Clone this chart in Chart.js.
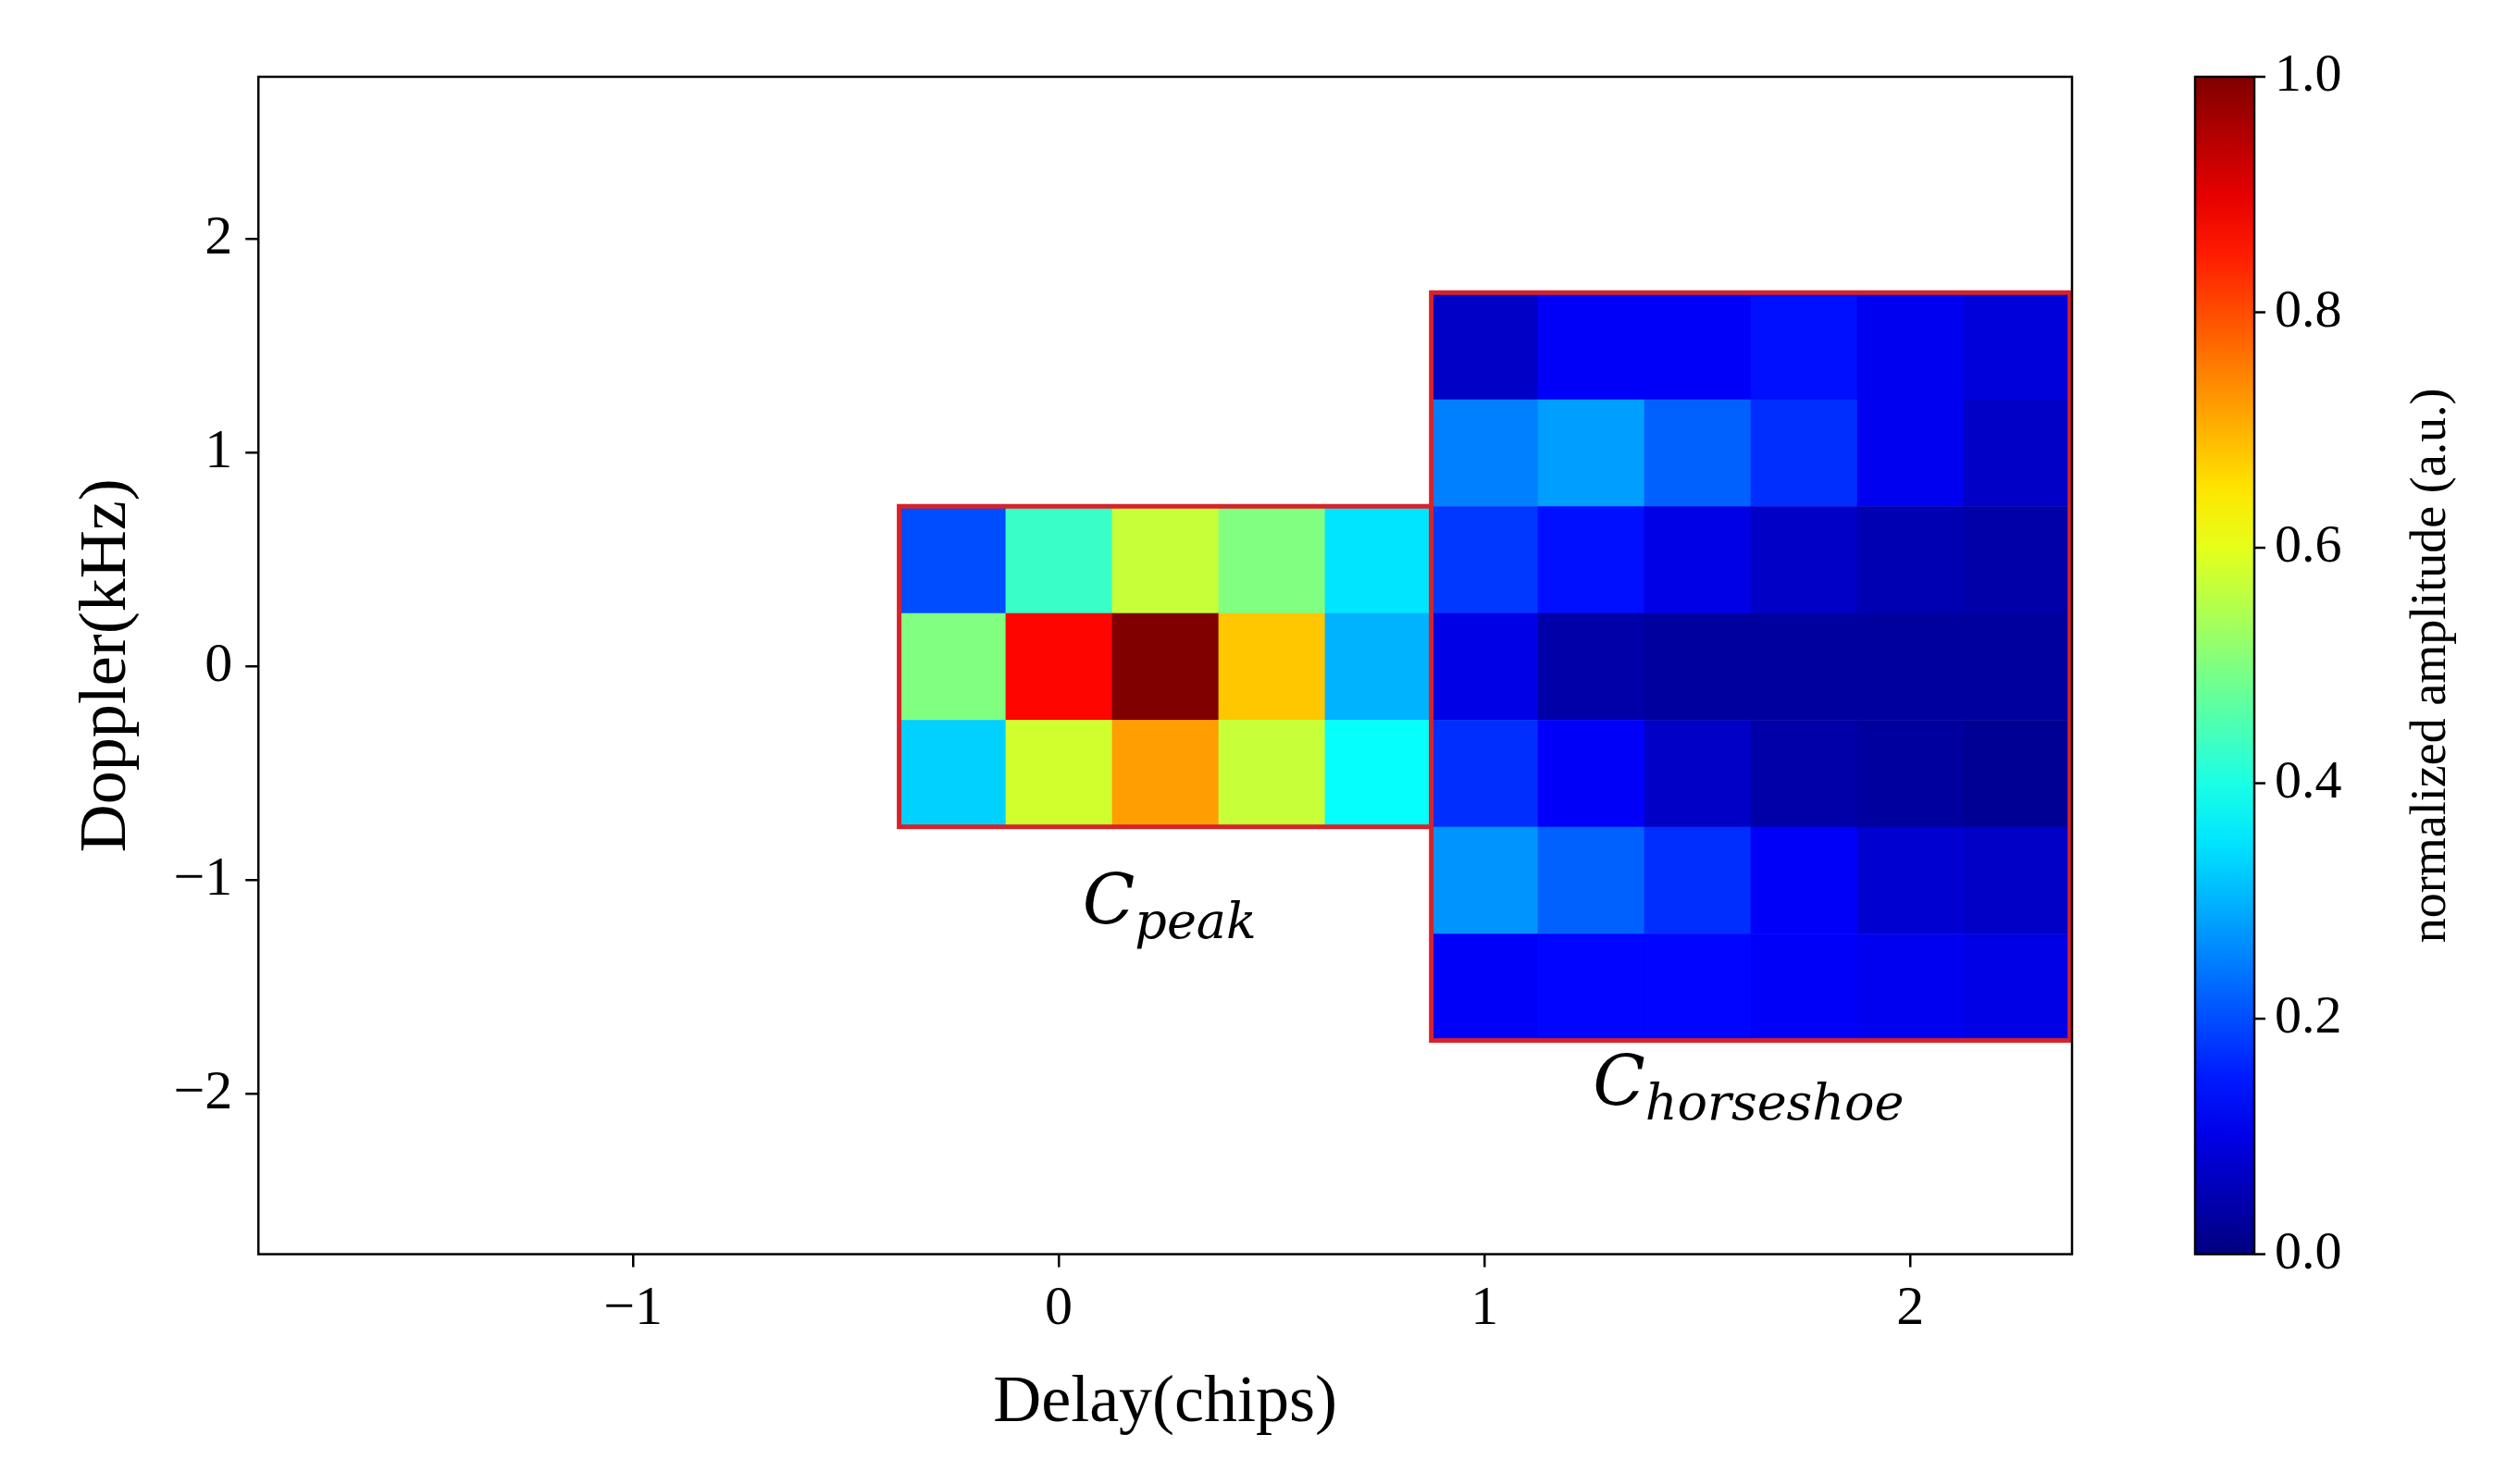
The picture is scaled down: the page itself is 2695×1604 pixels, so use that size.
<!DOCTYPE html>
<html>
<head>
<meta charset="utf-8">
<script src="https://cdn.jsdelivr.net/npm/chart.js@4/dist/chart.umd.min.js"></script>
<style>
  html, body { margin: 0; padding: 0; background: #fff; }
  #wrap { width: 2695px; height: 1604px; }
</style>
</head>
<body>
<div id="wrap"><canvas id="c"></canvas></div>
<script>
// cell geometry in data units
var cellW = 0.25, cellH = 0.5;

// C_peak block: delay centres, doppler centres (top to bottom), amplitudes
var peakDelays = [-0.25, 0, 0.25, 0.5, 0.75];
var peakDopplers = [0.5, 0, -0.5];
var peakValues = [
    [0.20, 0.43, 0.57, 0.50, 0.35],
    [0.50, 0.87, 1.00, 0.68, 0.30],
    [0.33, 0.58, 0.72, 0.57, 0.38]
];

// C_horseshoe block
var hsDelays = [1.0, 1.25, 1.5, 1.75, 2.0, 2.25];
var hsDopplers = [1.5, 1.0, 0.5, 0, -0.5, -1.0, -1.5];
var hsValues = [
    [0.07, 0.12, 0.12, 0.14, 0.11, 0.09],
    [0.25, 0.28, 0.22, 0.17, 0.11, 0.07],
    [0.18, 0.14, 0.10, 0.07, 0.05, 0.04],
    [0.10, 0.04, 0.03, 0.03, 0.03, 0.03],
    [0.17, 0.12, 0.07, 0.04, 0.03, 0.02],
    [0.27, 0.22, 0.17, 0.12, 0.08, 0.07],
    [0.12, 0.13, 0.13, 0.12, 0.11, 0.10]
];

var xTicks = [-1, 0, 1, 2];
var yTicks = [-2, -1, 0, 1, 2];
var cbTicks = [0.0, 0.2, 0.4, 0.6, 0.8, 1.0];

function clamp(v) { return Math.max(0, Math.min(1, v)); }
function jet(v) {
    var r = clamp(1.5 - Math.abs(4 * v - 3));
    var g = clamp(1.5 - Math.abs(4 * v - 2));
    var b = clamp(1.5 - Math.abs(4 * v - 1));
    return 'rgb(' + Math.round(r * 255) + ',' + Math.round(g * 255) + ',' + Math.round(b * 255) + ')';
}
function minus(v) { return String(v).replace('-', '\u2212'); }

var serif = '"Liberation Serif", "DejaVu Serif", serif';

function drawBlock(ctx, xs, ys, xd, yd, vals) {
    for (var i = 0; i < yd.length; i++) {
        for (var j = 0; j < xd.length; j++) {
            var x0 = xs.getPixelForValue(xd[j] - cellW / 2);
            var x1 = xs.getPixelForValue(xd[j] + cellW / 2);
            var y0 = ys.getPixelForValue(yd[i] + cellH / 2);
            var y1 = ys.getPixelForValue(yd[i] - cellH / 2);
            ctx.fillStyle = jet(vals[i][j]);
            ctx.fillRect(x0, y0, x1 - x0 + 0.5, y1 - y0 + 0.5);
        }
    }
    var bx0 = xs.getPixelForValue(xd[0] - cellW / 2);
    var bx1 = xs.getPixelForValue(xd[xd.length - 1] + cellW / 2);
    var by0 = ys.getPixelForValue(yd[0] + cellH / 2);
    var by1 = ys.getPixelForValue(yd[yd.length - 1] - cellH / 2);
    ctx.strokeStyle = '#d7222b';
    ctx.lineWidth = 5;
    ctx.strokeRect(bx0, by0, bx1 - bx0, by1 - by0);
}

function drawLabel(ctx, x, y, main, sub) {
    ctx.fillStyle = '#000';
    ctx.textBaseline = 'alphabetic';
    ctx.textAlign = 'left';
    ctx.font = 'italic 74px "DejaVu Serif", serif';
    var w = ctx.measureText(main).width;
    ctx.font = 'italic 54px "DejaVu Serif", serif';
    var ws = ctx.measureText(sub).width;
    var start = x - (w + ws) / 2;
    ctx.font = 'italic 74px "DejaVu Serif", serif';
    ctx.fillText(main, start, y);
    ctx.font = 'italic 54px "DejaVu Serif", serif';
    ctx.fillText(sub, start + w, y + 16);
}

var heatPlugin = {
    id: 'heat',
    beforeDatasetsDraw: function(chart) {
        var ctx = chart.ctx, xs = chart.scales.x, ys = chart.scales.y;
        ctx.save();
        drawBlock(ctx, xs, ys, peakDelays, peakDopplers, peakValues);
        drawBlock(ctx, xs, ys, hsDelays, hsDopplers, hsValues);
        drawLabel(ctx, xs.getPixelForValue(0.26), ys.getPixelForValue(-1.2), 'C', 'peak');
        drawLabel(ctx, xs.getPixelForValue(1.62), ys.getPixelForValue(-2.05), 'C', 'horseshoe');
        ctx.restore();
    },
    afterDraw: function(chart) {
        var ctx = chart.ctx, a = chart.chartArea, cb = chart.scales.cb;
        ctx.save();
        ctx.strokeStyle = '#000';
        ctx.lineWidth = 2.5;
        ctx.strokeRect(a.left, a.top, a.right - a.left, a.bottom - a.top);
        // colorbar
        var cx0 = 2372, cx1 = 2436;
        var top = cb.getPixelForValue(1), bot = cb.getPixelForValue(0);
        var g = ctx.createLinearGradient(0, bot, 0, top);
        for (var k = 0; k <= 20; k++) g.addColorStop(k / 20, jet(k / 20));
        ctx.fillStyle = g;
        ctx.fillRect(cx0, top, cx1 - cx0, bot - top);
        ctx.strokeRect(cx0, top, cx1 - cx0, bot - top);
        ctx.fillStyle = '#000';
        ctx.font = '58px ' + serif;
        ctx.textAlign = 'left';
        ctx.textBaseline = 'middle';
        cbTicks.forEach(function(t) {
            var py = cb.getPixelForValue(t);
            ctx.beginPath();
            ctx.moveTo(cx1, py);
            ctx.lineTo(cx1 + 12, py);
            ctx.stroke();
            ctx.fillText(t.toFixed(1), cx1 + 22, py);
        });
        ctx.translate(2628, (top + bot) / 2);
        ctx.rotate(-Math.PI / 2);
        ctx.textAlign = 'center';
        ctx.font = '54px ' + serif;
        ctx.fillText('normalized amplitude (a.u.)', 0, 0);
        ctx.restore();
    }
};

new Chart(document.getElementById('c').getContext('2d'), {
    type: 'scatter',
    data: { datasets: [{ data: [], showLine: false }] },
    options: {
        responsive: true,
        maintainAspectRatio: false,
        animation: false,
        devicePixelRatio: 1,
        layout: { padding: { left: 69, right: 456, top: 83, bottom: 40 } },
        plugins: { legend: { display: false }, tooltip: { enabled: false } },
        scales: {
            x: {
                type: 'linear', min: -1.88, max: 2.38,
                afterBuildTicks: function(s) { s.ticks = xTicks.map(function(v) { return { value: v }; }); },
                ticks: { color: '#000', font: { family: serif, size: 60 }, padding: 10, maxRotation: 0,
                         callback: function(v) { return minus(v); } },
                grid: { drawOnChartArea: false, tickLength: 14, color: '#000', lineWidth: 2.5 },
                border: { display: false },
                title: { display: true, text: 'Delay(chips)', color: '#000', font: { family: serif, size: 72 }, padding: { top: 12 } }
            },
            y: {
                type: 'linear', min: -2.75, max: 2.76,
                afterBuildTicks: function(s) { s.ticks = yTicks.map(function(v) { return { value: v }; }); },
                ticks: { color: '#000', font: { family: serif, size: 60 }, padding: 14,
                         callback: function(v) { return minus(v); } },
                grid: { drawOnChartArea: false, tickLength: 14, color: '#000', lineWidth: 2.5 },
                border: { display: false },
                title: { display: true, text: 'Doppler(kHz)', color: '#000', font: { family: serif, size: 72 }, padding: { bottom: 14 } }
            },
            cb: {
                type: 'linear', position: 'right', min: 0, max: 1, display: false
            }
        }
    },
    plugins: [heatPlugin]
});
</script>
</body>
</html>
